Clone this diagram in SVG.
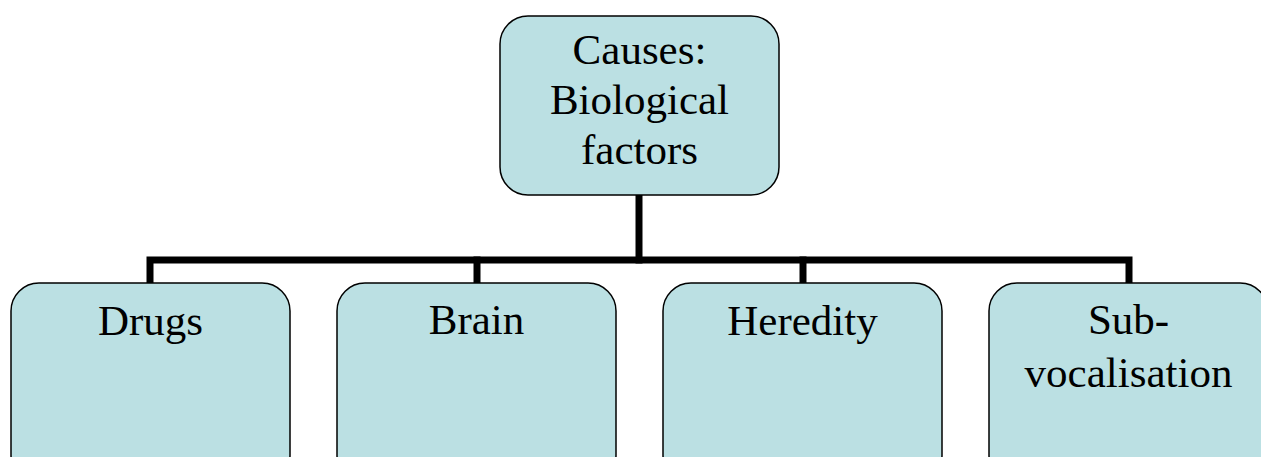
<svg xmlns="http://www.w3.org/2000/svg" width="1261" height="457" viewBox="0 0 1261 457">
  <style>
    .box { fill: #BBE0E3; stroke: #000; stroke-width: 1.5; }
    .lbl { font-size: 43px; fill: #000; text-anchor: middle; }
    .conn { fill: none; stroke: #000; stroke-width: 7; stroke-linecap: square; stroke-linejoin: miter; }
  </style>
  <rect width="1261" height="457" fill="#fff"/>

  <!-- hierarchy connectors -->
  <g id="connectors">
    <path class="conn" d="M639 196 V260"/>
    <path class="conn" d="M150 282 V260 H1129 V282"/>
    <path class="conn" d="M477 260 V282"/>
    <path class="conn" d="M803 260 V282"/>
  </g>

  <g font-family="Liberation Serif, DejaVu Serif, serif">
    <g id="root">
      <rect class="box" x="500" y="16" width="279" height="179" rx="28" ry="28"/>
      <text class="lbl" x="639.5" y="64">Causes:</text>
      <text class="lbl" x="639.5" y="114">Biological</text>
      <text class="lbl" x="639.5" y="164">factors</text>
    </g>

    <g id="drugs">
      <rect class="box" x="11" y="283" width="279" height="200" rx="28" ry="28"/>
      <text class="lbl" x="150.5" y="335">Drugs</text>
    </g>

    <g id="brain">
      <rect class="box" x="337" y="283" width="279" height="200" rx="28" ry="28"/>
      <text class="lbl" x="476.5" y="334">Brain</text>
    </g>

    <g id="heredity">
      <rect class="box" x="663" y="283" width="279" height="200" rx="28" ry="28"/>
      <text class="lbl" x="802.5" y="335">Heredity</text>
    </g>

    <g id="subvocalisation">
      <rect class="box" x="989" y="283" width="279" height="200" rx="28" ry="28"/>
      <text class="lbl" x="1128.5" y="334">Sub-</text>
      <text class="lbl" x="1128.5" y="387">vocalisation</text>
    </g>
  </g>
</svg>
